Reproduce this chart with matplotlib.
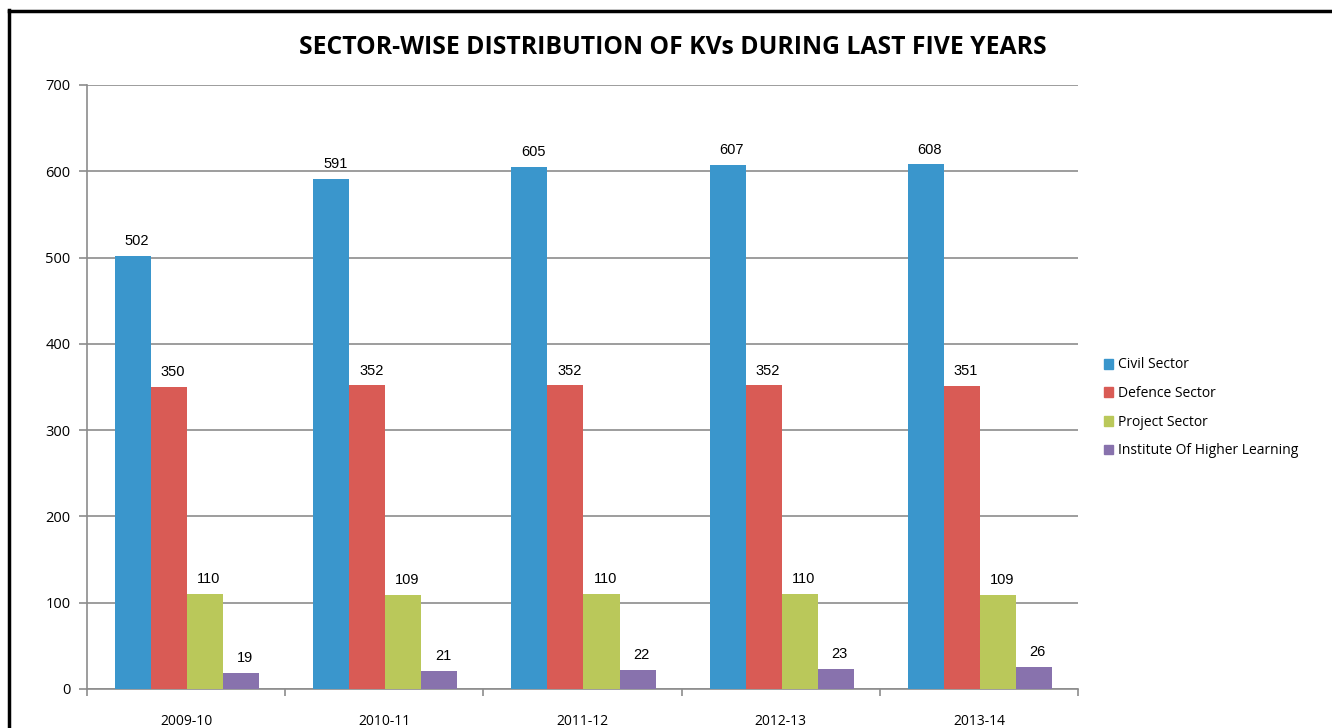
import numpy as np
import matplotlib.pyplot as plt
from matplotlib.lines import Line2D
from matplotlib.patches import Patch

years = ['2009-10', '2010-11', '2011-12', '2012-13', '2013-14']
civil = [502, 591, 605, 607, 608]
defence = [350, 352, 352, 352, 351]
project = [110, 109, 110, 110, 109]
institute = [19, 21, 22, 23, 26]

series = [('Civil Sector', civil, '#3a96cc'),
          ('Defence Sector', defence, '#d95b55'),
          ('Project Sector', project, '#bac85a'),
          ('Institute Of Higher Learning', institute, '#8872ad')]

fig = plt.figure(figsize=(13.32, 7.28), dpi=100)
ax = fig.add_axes([87/1332, 1-689/728, (1078-87)/1332, (689-85)/728])

x = np.arange(len(years))
w = 0.1817
for i, (name, vals, col) in enumerate(series):
    pos = x + (i - 1.5) * w + 0.005
    ax.bar(pos, vals, w, color=col, label=name, zorder=3)
    for p, v in zip(pos, vals):
        ax.text(p + 0.02, v + 9, str(v), ha='center', va='bottom',
                fontsize=10.5, family='Liberation Sans')

ax.set_xlim(-0.5, len(years) - 0.5)
ax.set_ylim(0, 700)
ax.set_yticks(range(0, 701, 100))
ax.yaxis.grid(True, color='#8c8c8c', lw=1.2, zorder=0)
ax.set_xticks(x)
ax.set_xticklabels(years, family='Open Sans', fontsize=10)
ax.set_xticks(np.arange(-0.5, len(years)), minor=True)
ax.tick_params(axis='x', which='major', length=0, pad=18)
ax.tick_params(axis='x', which='minor', length=5, color='#8c8c8c', width=1.2)
ax.tick_params(axis='y', length=6, color='#8c8c8c', width=1.2, pad=6)
for lab in ax.get_yticklabels():
    lab.set_family('Open Sans')
    lab.set_fontsize(10.5)
for s in ['top', 'right']:
    ax.spines[s].set_visible(False)
for s in ['left', 'bottom']:
    ax.spines[s].set_color('#8c8c8c')
    ax.spines[s].set_linewidth(1.2)

fig.text(673/1332, 1-48/728, 'SECTOR-WISE DISTRIBUTION OF KVs DURING LAST FIVE YEARS',
         ha='center', va='center', fontsize=17.8, fontweight='bold', family='Open Sans')

handles = [Patch(color=c, label=n) for n, v, c in series]
fig.legend(handles=handles, loc='upper left', bbox_to_anchor=(1091/1332, 1-345/728),
           frameon=False, prop={'family': 'Open Sans', 'size': 10},
           handlelength=0.7, handleheight=0.7, handletextpad=0.35, labelspacing=0.98)

# outer border (left and top only visible)
fig.add_artist(Line2D([9/1332, 9/1332], [0, 1-10/728], color='black', lw=2.5,
                      transform=fig.transFigure))
fig.add_artist(Line2D([9/1332, 1], [1-11/728, 1-11/728], color='black', lw=2.5,
                      transform=fig.transFigure))

fig.savefig('out.png', dpi=100)
plt.close()
